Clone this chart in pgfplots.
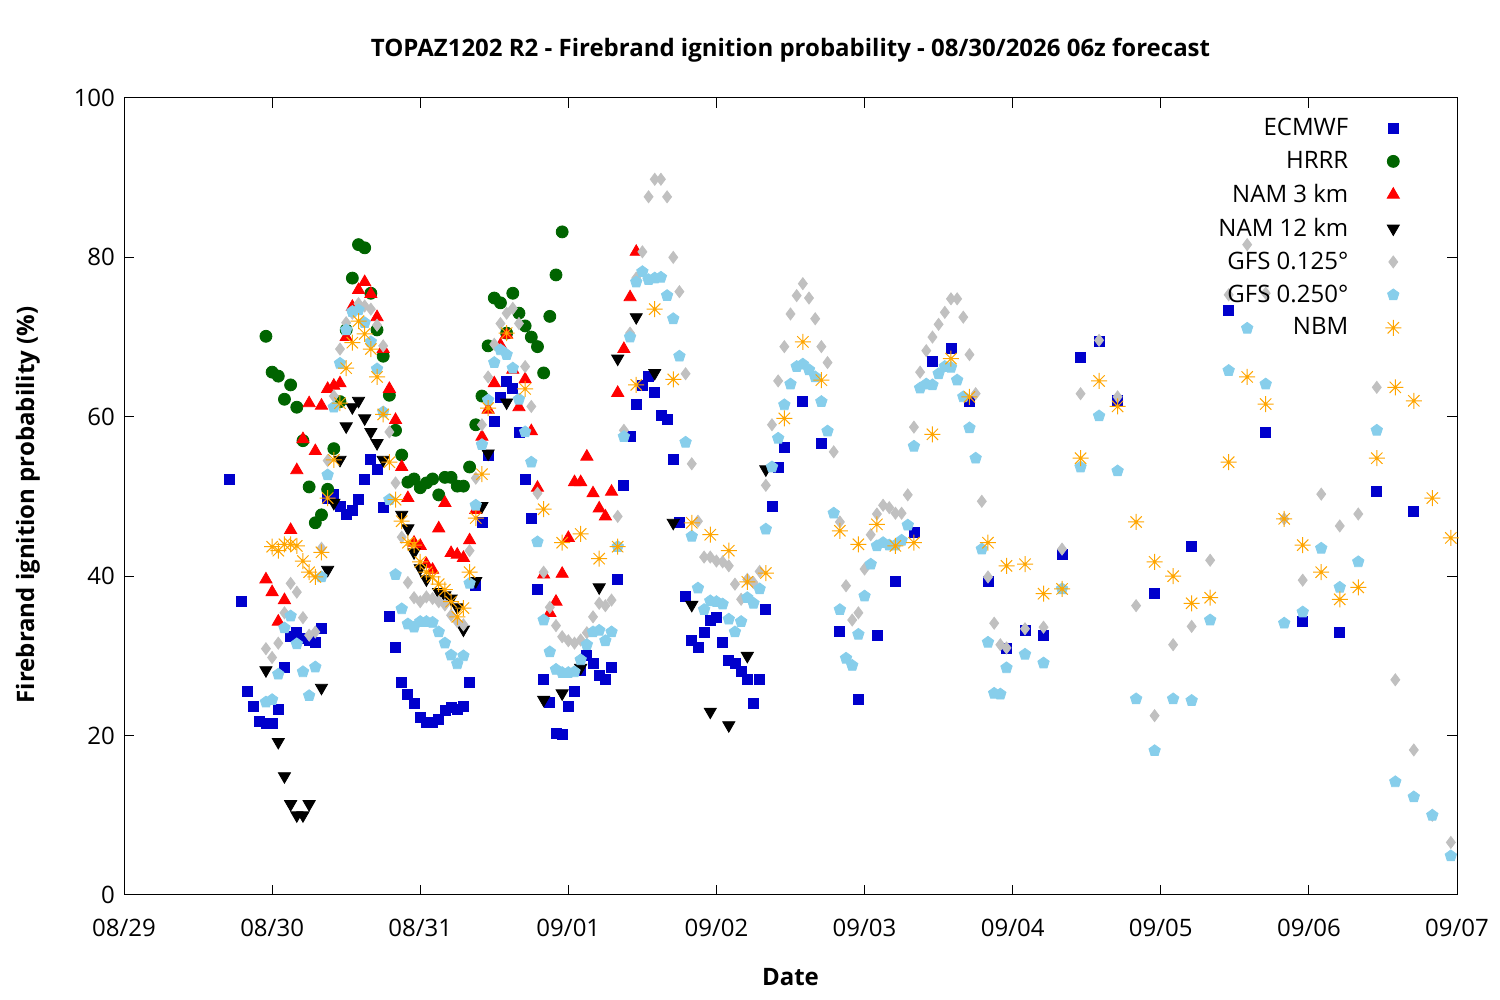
\documentclass[border=0pt]{standalone}
\usepackage{fontspec}
\setmainfont{Open Sans}
\usepackage{pgfplots}
\pgfplotsset{compat=1.18}
\definecolor{cecm}{RGB}{0,0,204}
\definecolor{chrrr}{RGB}{0,100,0}
\definecolor{cnamt}{RGB}{255,0,0}
\definecolor{cnamtw}{RGB}{0,0,0}
\definecolor{cgfsa}{RGB}{192,192,192}
\definecolor{cgfsb}{RGB}{135,206,235}
\definecolor{cnbm}{RGB}{255,165,0}
\pgfdeclareplotmark{gstar}{%
  \pgfpathmoveto{\pgfqpoint{-\pgfplotmarksize}{0pt}}\pgfpathlineto{\pgfqpoint{\pgfplotmarksize}{0pt}}%
  \pgfpathmoveto{\pgfqpoint{0pt}{-\pgfplotmarksize}}\pgfpathlineto{\pgfqpoint{0pt}{\pgfplotmarksize}}%
  \pgfpathmoveto{\pgfqpoint{-0.707\pgfplotmarksize}{-0.707\pgfplotmarksize}}\pgfpathlineto{\pgfqpoint{0.707\pgfplotmarksize}{0.707\pgfplotmarksize}}%
  \pgfpathmoveto{\pgfqpoint{-0.707\pgfplotmarksize}{0.707\pgfplotmarksize}}\pgfpathlineto{\pgfqpoint{0.707\pgfplotmarksize}{-0.707\pgfplotmarksize}}%
  \pgfusepathqstroke}

\pgfplotstableread{
h v
17 52.1
19 36.8
20 25.6
21 23.6
22 21.8
23 21.5
24 21.5
25 23.3
26 28.5
27 32.4
28 32.9
29 32.2
30 32.0
31 31.7
32 33.4
33 49.8
34 50.3
35 48.7
36 47.7
37 48.2
38 49.6
39 52.2
40 54.6
41 53.4
42 48.6
43 34.9
44 31.1
45 26.7
46 25.2
47 24.0
48 22.3
49 21.7
50 21.6
51 22.0
52 23.1
53 23.5
54 23.3
55 23.6
56 26.7
57 38.9
58 46.8
59 55.1
60 59.4
61 62.4
62 64.5
63 63.6
64 58.0
65 52.2
66 47.3
67 38.4
68 27.0
69 24.2
70 20.3
71 20.2
72 23.7
73 25.6
74 28.2
75 30.1
76 29.0
77 27.5
78 27.0
79 28.5
80 39.6
81 51.4
82 57.5
83 61.5
84 63.9
85 65.1
86 63.1
87 60.2
88 59.7
89 54.7
90 46.8
91 37.5
92 31.9
93 31.1
94 33.0
95 34.5
96 34.8
97 31.7
98 29.4
99 29.1
100 28.1
101 27.0
102 24.1
103 27.0
104 35.8
105 48.7
106 53.6
107 56.1
110 61.9
113 56.7
116 33.1
119 24.5
122 32.6
125 39.3
128 45.5
131 67.0
134 68.6
137 61.9
140 39.3
143 30.9
146 33.2
149 32.6
152 42.7
155 67.5
158 69.4
161 62.1
167 37.9
173 43.7
179 73.4
185 58.1
191 34.3
197 32.9
203 50.7
209 48.1
}\ecmwf

\pgfplotstableread{
h v
23 70.1
24 65.6
25 65.1
26 62.2
27 64.0
28 61.2
29 57.0
30 51.2
31 46.7
32 47.7
33 50.9
34 56.0
35 61.9
36 70.9
37 77.4
38 81.6
39 81.2
40 75.5
41 70.9
42 67.6
43 62.7
44 58.3
45 55.2
46 51.8
47 52.2
48 51.1
49 51.7
50 52.2
51 50.2
52 52.4
53 52.4
54 51.3
55 51.3
56 53.7
57 59.0
58 62.6
59 68.9
60 74.9
61 74.3
62 70.5
63 75.5
64 73.0
65 71.4
66 70.0
67 68.8
68 65.5
69 72.6
70 77.8
71 83.2
}\hrrr

\pgfplotstableread{
h v
23 39.6
24 38.0
25 34.3
26 37.0
27 45.8
28 53.3
29 57.2
30 61.7
31 55.7
32 61.4
33 63.5
34 63.9
35 64.2
36 70.0
37 73.8
38 75.9
39 76.9
40 75.4
41 72.5
42 68.5
43 63.5
44 59.6
45 53.7
46 49.8
47 44.2
48 43.8
49 41.5
50 40.8
51 46.0
52 49.2
53 42.9
54 42.7
55 42.3
56 44.5
57 48.3
58 57.5
59 60.9
60 64.2
61 69.0
62 70.3
63 65.9
64 61.2
65 64.7
66 58.2
67 51.1
68 40.2
69 35.4
70 36.8
71 40.3
72 44.8
73 51.8
74 51.8
75 55.0
76 50.4
77 48.5
78 47.5
79 50.6
80 63.0
81 68.5
82 75.0
83 80.7
}\namthree

\pgfplotstableread{
h v
23 28.2
25 19.2
26 14.9
27 11.4
28 10.0
29 10.0
30 11.4
32 26.0
33 40.8
34 49.2
35 54.6
36 58.8
37 61.2
38 62.0
39 59.8
40 58.1
41 56.7
42 54.6
45 47.7
46 46.0
47 43.0
48 41.0
49 39.6
51 38.0
52 37.6
53 37.2
54 36.1
55 33.3
57 39.4
58 48.8
59 55.4
62 61.8
68 24.5
71 25.3
74 28.5
77 38.6
80 67.3
83 72.5
86 65.5
89 46.7
92 36.4
95 23.0
98 21.3
101 30.0
104 53.4
}\namtwelve

\pgfplotstableread{
h v
23 30.9
24 29.8
25 31.6
26 35.4
27 39.1
28 38.0
29 34.8
30 32.6
31 33.0
32 43.5
33 54.5
34 62.6
35 68.5
36 71.8
37 73.0
38 74.2
39 73.9
40 73.5
41 71.5
42 68.9
43 58.1
44 51.7
45 44.9
46 39.2
47 37.3
48 36.8
49 37.4
50 37.2
51 36.8
52 36.4
53 35.1
54 34.3
55 33.9
56 43.2
57 52.3
58 59.0
59 65.0
60 69.1
61 71.7
62 73.0
63 73.6
64 71.7
65 66.3
66 61.3
67 50.4
68 40.5
69 36.1
70 33.8
71 32.4
72 31.9
73 31.6
74 32.0
75 32.9
76 34.9
77 36.6
78 36.3
79 37.0
80 47.5
81 58.3
82 70.5
83 77.4
84 80.7
85 87.6
86 89.8
87 89.8
88 87.6
89 80.0
90 75.7
91 65.4
92 54.1
93 46.9
94 42.4
95 42.4
96 41.9
97 41.8
98 41.3
99 39.0
100 37.1
101 39.6
102 39.2
103 40.6
104 51.4
105 59.0
106 64.5
107 68.8
108 72.9
109 75.2
110 76.7
111 74.9
112 72.3
113 68.8
114 66.8
115 55.6
116 46.8
117 38.8
118 34.5
119 35.4
120 40.9
121 45.2
122 47.8
123 48.9
124 48.6
125 47.9
126 47.9
127 50.2
128 58.7
129 65.6
130 68.3
131 70.0
132 71.6
133 73.1
134 74.8
135 74.8
136 72.5
137 67.8
138 62.9
139 49.4
140 39.9
141 34.1
142 31.4
143 31.0
146 33.4
149 33.6
152 43.4
155 62.9
158 69.6
161 62.5
164 36.3
167 22.5
170 31.4
173 33.7
176 42.0
179 75.3
182 81.6
185 75.5
188 47.2
191 39.5
194 50.3
197 46.3
200 47.8
203 63.7
206 27.0
209 18.2
212 10.0
215 6.6
}\gfsa

\pgfplotstableread{
h v
23 24.2
24 24.5
25 27.7
26 33.5
27 35.0
28 31.5
29 28.0
30 25.0
31 28.6
32 39.9
33 52.7
34 61.2
35 66.7
36 70.9
37 73.2
38 73.4
39 71.8
40 69.4
41 66.0
42 60.6
43 49.6
44 40.2
45 35.9
46 34.0
47 33.6
48 34.3
49 34.3
50 34.2
51 33.0
52 31.6
53 30.1
54 29.0
55 30.0
56 39.1
57 48.9
58 56.5
59 62.1
60 66.8
61 68.4
62 67.8
63 66.1
64 62.2
65 58.1
66 54.3
67 44.3
68 34.5
69 30.5
70 28.3
71 27.9
72 27.9
73 28.0
74 29.5
75 31.4
76 33.0
77 33.2
78 31.9
79 33.0
80 43.7
81 57.5
82 70.0
83 76.9
84 78.2
85 77.2
86 77.4
87 77.5
88 75.2
89 72.3
90 67.6
91 56.8
92 45.0
93 38.5
94 35.8
95 36.9
96 36.8
97 36.5
98 34.6
99 33.0
100 34.3
101 37.3
102 36.6
103 38.4
104 45.9
105 53.7
106 57.3
107 61.5
108 64.1
109 66.3
110 66.6
111 65.9
112 65.0
113 61.9
114 58.2
115 47.9
116 35.8
117 29.7
118 28.8
119 32.7
120 37.5
121 41.5
122 43.8
123 44.2
124 43.9
125 43.9
126 44.5
127 46.4
128 56.3
129 63.6
130 64.1
131 64.0
132 65.4
133 66.3
134 66.2
135 64.6
136 62.5
137 58.6
138 54.8
139 43.4
140 31.7
141 25.3
142 25.2
143 28.5
146 30.2
149 29.1
152 38.4
155 53.7
158 60.1
161 53.2
164 24.6
167 18.1
170 24.6
173 24.4
176 34.5
179 65.8
182 71.1
185 64.1
188 34.1
191 35.5
194 43.5
197 38.6
200 41.8
203 58.3
206 14.2
209 12.3
212 10.0
215 4.9
}\gfsb

\pgfplotstableread{
h v
24 43.7
25 43.2
26 44.0
27 44.0
28 43.8
29 41.9
30 40.5
31 39.9
32 43.0
33 49.8
34 54.6
35 61.7
36 66.1
37 69.3
38 72.0
39 70.4
40 68.5
41 65.0
42 60.3
43 54.3
44 49.6
45 46.9
46 44.2
47 43.9
48 41.8
49 40.5
50 39.9
51 39.0
52 38.3
53 36.8
54 34.9
55 36.0
56 40.5
57 47.3
58 52.8
59 61.1
62 70.5
65 63.5
68 48.4
71 44.2
74 45.3
77 42.2
80 43.7
83 64.0
86 73.5
89 64.7
92 46.7
95 45.2
98 43.2
101 39.3
104 40.4
107 59.8
110 69.4
113 64.6
116 45.7
119 44.0
122 46.5
125 43.8
128 44.2
131 57.8
134 67.3
137 62.5
140 44.2
143 41.3
146 41.5
149 37.8
152 38.4
155 54.8
158 64.5
161 61.3
164 46.8
167 41.8
170 40.0
173 36.6
176 37.3
179 54.3
182 65.0
185 61.6
188 47.2
191 43.9
194 40.5
197 37.1
200 38.6
203 54.8
206 63.7
209 62.0
212 49.8
215 44.8
}\nbm

\begin{document}
\begin{tikzpicture}[x=1pt,y=1pt]
\useasboundingbox (0,0) rectangle (750,500);
\node[font=\bfseries\fontsize{12}{14}\selectfont] at (395.25,475) {TOPAZ1202 R2 - Firebrand ignition probability - 08/30/2026 06z forecast};
\node[font=\bfseries\fontsize{12}{14}\selectfont] at (395.25,11.5) {Date};
\node[font=\bfseries\fontsize{12}{14}\selectfont, rotate=90] at (14,247.5) {Firebrand ignition probability (\%)};
\begin{axis}[
  at={(62pt,52.5pt)}, anchor=south west,
  scale only axis, width=666.5pt, height=398.5pt,
  xmin=0, xmax=216, ymin=0, ymax=100,
  xtick={0,24,48,72,96,120,144,168,192,216},
  xticklabels={08/29,08/30,08/31,09/01,09/02,09/03,09/04,09/05,09/06,09/07},
  ytick={0,20,40,60,80,100},
  tick align=inside, tick pos=both,
  major tick length=5pt,
  axis line style={line width=0.5pt},
  every tick/.style={line width=0.5pt, black},
  tick label style={font=\fontsize{12}{14}\selectfont},
  /pgf/number format/assume math mode=true,
  xticklabel style={yshift=-8.5pt},
  yticklabel style={xshift=-1pt},
  legend plot pos=right,
  legend cell align=right,
  legend image code/.code={\path[draw=none,fill=none] (0pt,-1pt) rectangle (23.5pt,1pt); \draw[#1] plot coordinates {(20.5pt,0pt)};},
  legend style={draw=none, fill=none, at={(rel axis cs:0.963,0.985)}, anchor=north east,
    font=\fontsize{12}{14}\selectfont, row sep=2.3pt},
  only marks,
]
\addplot[mark=square*, mark size=2.5pt, color=cecm] table[x=h,y=v] {\ecmwf};
\addlegendentry{ECMWF}
\addplot[mark=*, mark size=3pt, color=chrrr] table[x=h,y=v] {\hrrr};
\addlegendentry{HRRR}
\addplot[mark=triangle*, mark size=3.5pt, color=cnamt] table[x=h,y=v] {\namthree};
\addlegendentry{NAM 3 km}
\addplot[mark=triangle*, mark size=3.5pt, mark options={rotate=180}, color=cnamtw] table[x=h,y=v] {\namtwelve};
\addlegendentry{NAM 12 km}
\addplot[mark=diamond*, mark size=3pt, color=cgfsa] table[x=h,y=v] {\gfsa};
\addlegendentry{GFS 0.125°}
\addplot[mark=pentagon*, mark size=3pt, color=cgfsb] table[x=h,y=v] {\gfsb};
\addlegendentry{GFS 0.250°}
\addplot[mark=gstar, mark size=4pt, mark options={line width=0.5pt}, color=cnbm] table[x=h,y=v] {\nbm};
\addlegendentry{NBM}
\end{axis}
\end{tikzpicture}
\end{document}
